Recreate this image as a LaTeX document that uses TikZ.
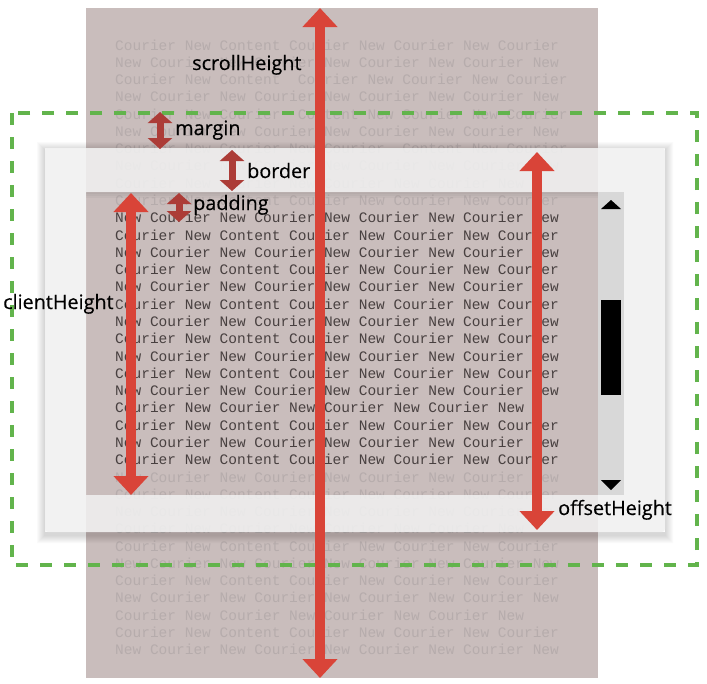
\documentclass[tikz,border=0pt]{standalone}
\usepackage{fontspec}
\setmainfont{Open Sans}
\newfontfamily\labfont{Open Sans}[FakeBold=0.35]
\newfontfamily\monofont{Liberation Mono}
\usetikzlibrary{arrows.meta}
\definecolor{bgmauve}{RGB}{201,189,188}
\definecolor{faint}{RGB}{182,172,172}
\definecolor{inkdark}{RGB}{72,64,64}
\definecolor{panelgray}{RGB}{241,241,241}
\definecolor{trackgray}{RGB}{216,216,216}
\definecolor{boxgreen}{RGB}{98,180,76}
\definecolor{arrred}{RGB}{217,68,56}
\definecolor{arrdark}{RGB}{172,60,55}
\tikzset{
  codeline/.style={anchor=base west,inner sep=0pt,font=\monofont\fontsize{14.5}{17}\selectfont},
  dimlab/.style={anchor=base west,inner sep=0pt,font=\labfont\fontsize{19.8}{22}\selectfont},
  bigdim/.style={arrred,line width=10pt,{Triangle[width=34pt,length=19pt]}-{Triangle[width=34pt,length=19pt]}},
  smalldim/.style={arrdark,line width=7pt,{Triangle[width=24pt,length=11pt]}-{Triangle[width=24pt,length=11pt]}},
  marginbox/.style={boxgreen,line width=3.5pt,dash pattern=on 12pt off 12pt}
}

\begin{document}
\begin{tikzpicture}[x=1pt,y=-1pt]
    \useasboundingbox[fill=white] (0,0) rectangle (707,683);
    % scrolled content
    \fill[bgmauve] (86,8) rectangle (598,678);
    \foreach \txt [count=\i from 0] in {%
Courier New Content Courier New Courier New Courier,%
New Courier New Courier New Courier New Courier New,%
Courier New Content\ \ Courier New Courier New Courier,%
New Courier New Courier New Courier New Courier New,%
Courier New Courier\ \ Content New Courier New Courier,%
New Courier New Courier New Courier New Courier New,%
Courier New Courier New Courier\ \ Content New Courier,%
New Courier New Courier New Courier New Courier New,%
Courier New Courier New Courier New Courier New,%
Courier New Content Courier New Courier New Courier,%
New Courier New Courier New Courier New Courier New,%
Courier New Content Courier New Courier New Courier,%
New Courier New Courier New Courier New Courier New,%
Courier New Content Courier New Courier New Courier,%
New Courier New Courier New Courier New Courier New,%
Courier New Content Courier New Courier New Courier,%
New Courier New Courier New Courier New Courier New,%
Courier New Content Courier New Courier New Courier,%
New Courier New Courier New Courier New Courier New,%
Courier New Content Courier New Courier New Courier,%
New Courier New Courier New Courier New Courier New,%
Courier New Courier New Courier New Courier New,%
Courier New Content Courier New Courier New Courier,%
New Courier New Courier New Courier New Courier New,%
Courier New Content Courier New Courier New Courier,%
New Courier New Courier New Courier New Courier New,%
Courier New Content Courier New Courier New Courier,%
New Courier New Courier New Courier New Courier New,%
Courier New Courier New Courier New Courier New,%
Courier New Content Courier New Courier New Courier,%
New Courier New Courier New Courier New Courier New,%
Courier New Content Courier New Courier New Courier,%
New Courier New Courier New Courier New Courier New,%
Courier New Courier New Courier New Courier New,%
Courier New Content Courier New Courier New Courier,%
New Courier New Courier New Courier New Courier New%
    }{
      \def\lc{faint}\ifnum\i>9 \ifnum\i<25 \def\lc{inkdark}\fi\fi
      \node[codeline,text=\lc] (ln\i) at (115,{50+17.28*\i}) {\txt};
    }
    % border panel with its shadow
    \foreach \k in {1,...,8}
      \fill[black,opacity=0.018,even odd rule] ({45-\k},{150-\k}) rectangle ({665+\k},{535+\k}) (45,148) rectangle (665,532);
    \fill[panelgray,opacity=0.86,even odd rule] [rounded corners=3pt] (45,148) rectangle (665,532) [sharp corners] (86,192) rectangle (598,495);
    \foreach \k in {2,4,6}
      \fill[black,opacity=0.03] (86,192) rectangle (598,{192+\k});
    % scrollbar
    \fill[trackgray] (598,192) rectangle (624,495);
    \fill (611,200) -- (601,209) -- (621,209) -- cycle;
    \fill (601,480) -- (621,480) -- (611,490) -- cycle;
    \fill (601,300) rectangle (621,395);
    % margin box
    \draw[marginbox] (12,113) rectangle (697,565);
    % dimension ends
    \coordinate (scrolltop) at (320,8);
    \coordinate (scrollbot) at (320,678);
    \coordinate (clienttop) at (131,193);
    \coordinate (clientbot) at (131,495);
    \coordinate (offsettop) at (537,152);
    \coordinate (offsetbot) at (537,530);
    \coordinate (margintop) at (160,112);
    \coordinate (marginbot) at (160,149);
    \coordinate (bordertop) at (232,150);
    \coordinate (borderbot) at (232,191);
    \coordinate (padtop) at (179,193);
    \coordinate (padbot) at (179,222);
    \draw[bigdim] (scrolltop) -- (scrollbot);
    \draw[bigdim] (clienttop) -- (clientbot);
    \draw[bigdim] (offsettop) -- (offsetbot);
    \draw[smalldim] (margintop) -- (marginbot);
    \draw[smalldim] (bordertop) -- (borderbot);
    \draw[smalldim] (padtop) -- (padbot);
    % labels
    \node[dimlab] (lblscroll) at (192,70) {scrollHeight};
    \node[dimlab] (lblmargin) at (175,135) {margin};
    \node[dimlab] (lblborder) at (247,178) {border};
    \node[dimlab] (lblpad) at (193,210) {padding};
    \node[dimlab] (lblclient) at (3,309) {clientHeight};
    \node[dimlab] (lbloffset) at (558,515) {offsetHeight};
\end{tikzpicture}
\end{document}
